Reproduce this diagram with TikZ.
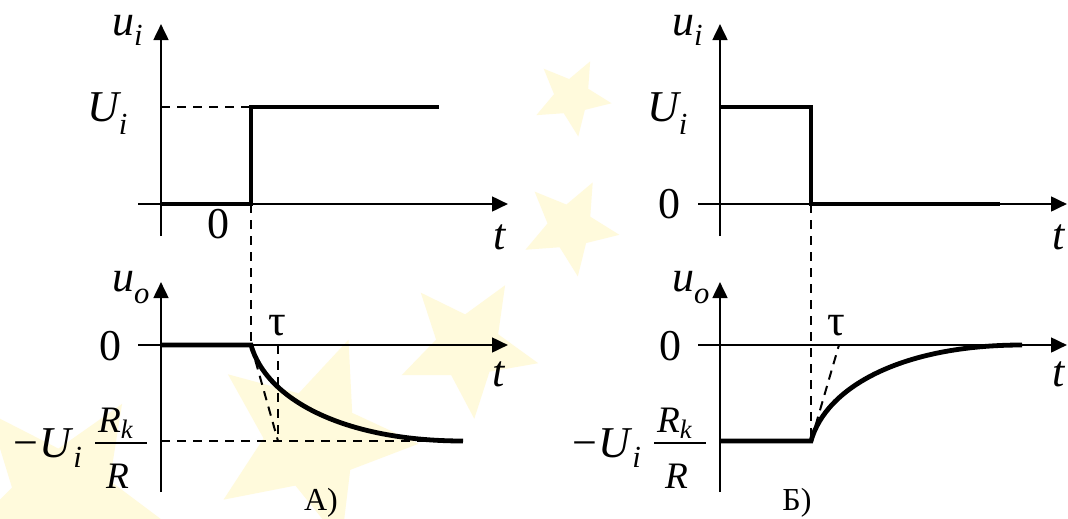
\documentclass[tikz,border=0pt]{standalone}
\usepackage{fontspec}
\setmainfont{Liberation Serif}
\usetikzlibrary{arrows.meta,shapes.geometric}
\definecolor{staryellow}{RGB}{255,250,220}
\newcommand{\bigsz}{\fontsize{33}{38}\selectfont}
\newcommand{\midsz}{\fontsize{28}{33}\selectfont}
\newcommand{\capsz}{\fontsize{24}{28}\selectfont}
\newcommand{\lowered}[3]{\raisebox{-#1}{\fontsize{#2}{#2}\selectfont\itshape #3}}
\begin{document}
\begin{tikzpicture}[x=0.75pt,y=-0.75pt,
  axis/.style={line width=2pt,-{Triangle[length=12pt,width=11pt]}},
  signal/.style={line width=3.6pt},
  guide/.style={line width=1.5pt,dash pattern=on 7pt off 5pt},
  fracline/.style={line width=1.2pt},
  lbl/.style={inner sep=0pt,outer sep=0pt,anchor=base west},
  lblc/.style={inner sep=0pt,outer sep=0pt,anchor=base},
  toplbl/.style={lbl,text height=15pt},
  starbg/.style={star,star points=5,star point ratio=2.2,fill=staryellow,draw=none,inner sep=0pt}]
\fill[white] (0,0) rectangle (1068,518);
\path[use as bounding box] (0,0) rectangle (1068,518);
% background stars
\begin{scope}
\clip (0,0) rectangle (1068,518);
\node[starbg,minimum size=60pt,rotate=-27] (s1) at (572,97) {};
\node[starbg,minimum size=75pt,rotate=-27] (s2) at (570,227) {};
\node[starbg,minimum size=108pt,rotate=-31] (s3) at (468,347) {};
\node[starbg,minimum size=160pt,rotate=-20] (s4) at (312,440) {};
\node[starbg,minimum size=170pt,rotate=-32] (s5) at (62,500) {};
\end{scope}
% ---------- coordinates, panel A ----------
\coordinate (aTyb) at (161,236); \coordinate (aTyt) at (161,24);
\coordinate (aTxl) at (138,204); \coordinate (aTxr) at (508,204);
\coordinate (aT0) at (161,204); \coordinate (aTs0) at (251,204);
\coordinate (aTs1) at (251,107); \coordinate (aTe) at (439,107);
\coordinate (aTu) at (161,107);
\coordinate (aByb) at (161,492); \coordinate (aByt) at (161,282);
\coordinate (aBxl) at (138,345); \coordinate (aBxr) at (508,345);
\coordinate (aB0) at (161,345); \coordinate (aBs) at (251,345);
\coordinate (aBe) at (463,441); \coordinate (aBl) at (161,441);
\coordinate (aBtau) at (278,345); \coordinate (aBtaul) at (278,441);
% ---------- coordinates, panel B ----------
\coordinate (bTyb) at (720,236); \coordinate (bTyt) at (720,24);
\coordinate (bTxl) at (698,204); \coordinate (bTxr) at (1067,204);
\coordinate (bTu) at (720,107); \coordinate (bTs1) at (811,107);
\coordinate (bTs0) at (811,204); \coordinate (bTe) at (1000,204);
\coordinate (bByb) at (720,492); \coordinate (bByt) at (720,282);
\coordinate (bBxl) at (698,345); \coordinate (bBxr) at (1067,345);
\coordinate (bBl) at (720,441); \coordinate (bBs) at (811,441);
\coordinate (bBe) at (1022,345); \coordinate (bBtau) at (839,345);
% ---------- guides ----------
\draw[guide] (aTu) -- (aTs1);
\draw[guide] (aTs0) -- (aBs);
\draw[guide] (aBl) -- (aBe);
\draw[guide] (aBtau) -- (aBtaul);
\draw[guide] (aBs) -- (aBtaul);
\draw[guide] (bTs0) -- (bBs);
\draw[guide] (bBs) -- (bBtau);
% ---------- axes ----------
\draw[axis] (aTyb) -- (aTyt);
\draw[axis] (aTxl) -- (aTxr);
\draw[axis] (aByb) -- (aByt);
\draw[axis] (aBxl) -- (aBxr);
\draw[axis] (bTyb) -- (bTyt);
\draw[axis] (bTxl) -- (bTxr);
\draw[axis] (bByb) -- (bByt);
\draw[axis] (bBxl) -- (bBxr);
% ---------- signals ----------
\draw[signal] (aT0) -- (aTs0) -- (aTs1) -- (aTe);
\draw[signal] (aB0) -- (aBs) .. controls (266,399) and (343,441) .. (aBe);
\draw[signal] (bTu) -- (bTs1) -- (bTs0) -- (bTe);
\draw[signal] (bBl) -- (bBs) .. controls (826,387) and (902,345) .. (bBe);
% ---------- labels, panel A ----------
\node[toplbl] (uiA) at (112,35) {\bigsz\itshape u\lowered{8pt}{23}{i}};
\node[lbl] (UiA) at (87,121) {\bigsz\itshape U\lowered{10pt}{23}{i}};
\node[lblc] (zAt) at (218,238) {\bigsz 0};
\node[lblc] (tAt) at (500,249) {\bigsz\itshape t};
\node[lbl] (uoA) at (112,291) {\bigsz\itshape u\lowered{9pt}{23}{o}};
\node[lblc] (zAb) at (110,360) {\bigsz 0};
\node[lblc] (tauA) at (277,335) {\bigsz τ};
\node[lblc] (tAb) at (499,386) {\bigsz\itshape t};
\node[lbl] (mUA) at (13,457) {\bigsz −\hspace{1pt}\textit{U}\lowered{8pt}{23}{i}};
\node[lbl] (RkA) at (98,432) {\midsz\itshape R\lowered{5pt}{20}{k}};
\coordinate (fAl) at (95,443); \coordinate (fAr) at (147,443);
\draw[fracline] (fAl) -- (fAr);
\node[lbl] (RA) at (106,488) {\midsz\itshape R};
\node[lblc] (capA) at (321,510) {\capsz А)};
% ---------- labels, panel B ----------
\node[toplbl] (uiB) at (672,35) {\bigsz\itshape u\lowered{8pt}{23}{i}};
\node[lbl] (UiB) at (647,121) {\bigsz\itshape U\lowered{10pt}{23}{i}};
\node[lblc] (zBt) at (669,218) {\bigsz 0};
\node[lblc] (tBt) at (1059,249) {\bigsz\itshape t};
\node[lbl] (uoB) at (672,291) {\bigsz\itshape u\lowered{9pt}{23}{o}};
\node[lblc] (zBb) at (670,360) {\bigsz 0};
\node[lblc] (tauB) at (836,335) {\bigsz τ};
\node[lblc] (tBb) at (1059,386) {\bigsz\itshape t};
\node[lbl] (mUB) at (572,457) {\bigsz −\hspace{1pt}\textit{U}\lowered{8pt}{23}{i}};
\node[lbl] (RkB) at (657,432) {\midsz\itshape R\lowered{5pt}{20}{k}};
\coordinate (fBl) at (654,443); \coordinate (fBr) at (706,443);
\draw[fracline] (fBl) -- (fBr);
\node[lbl] (RB) at (665,488) {\midsz\itshape R};
\node[lblc] (capB) at (797,510) {\capsz Б)};
\end{tikzpicture}
\end{document}
